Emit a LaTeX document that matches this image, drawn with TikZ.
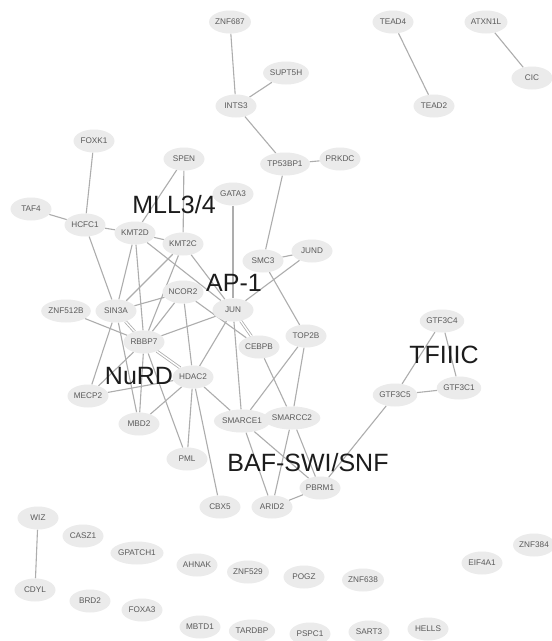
\documentclass[tikz,border=0pt]{standalone}
\usepackage{fontspec}
\setmainfont{Liberation Sans}
\usetikzlibrary{shapes.geometric}
\definecolor{nodefill}{HTML}{EBEBEB}
\definecolor{nodetext}{HTML}{5A5A5A}
\definecolor{edgecol}{HTML}{ADADAD}
\definecolor{grptext}{HTML}{1C1C1C}
\pgfdeclarelayer{bg}
\pgfdeclarelayer{edgelayer}
\pgfsetlayers{bg,edgelayer,main}
\begin{document}
\begin{tikzpicture}[x=1pt,y=-1pt,
  gene/.style={ellipse, fill=nodefill, minimum width=41pt, minimum height=23pt, inner sep=0pt,
    font=\fontsize{8.2pt}{9pt}\selectfont, text=nodetext},
  grp/.style={font=\fontsize{25pt}{28pt}\selectfont, text=grptext, inner sep=0pt},
  edge/.style={draw=edgecol, line width=1.1pt},
  dbl/.style={draw=edgecol, line width=0.8pt, double=white, double distance=1.4pt}]
\begin{pgfonlayer}{bg}
\fill[white] (0,0) rectangle (552,641);
\end{pgfonlayer}
\useasboundingbox (0,0) rectangle (552,641);

\node[gene] (ZNF687) at (230,22) {ZNF687};
\node[gene] (SUPT5H) at (286,73) {SUPT5H};
\node[gene] (INTS3) at (236,106) {INTS3};
\node[gene] (TEAD4) at (393,22) {TEAD4};
\node[gene] (TEAD2) at (434,106) {TEAD2};
\node[gene] (ATXN1L) at (486,22) {ATXN1L};
\node[gene] (CIC) at (532,78) {CIC};
\node[gene] (FOXK1) at (94,141) {FOXK1};
\node[gene] (SPEN) at (184,159) {SPEN};
\node[gene] (TP53BP1) at (285,164) {TP53BP1};
\node[gene] (PRKDC) at (340,159) {PRKDC};
\node[gene] (GATA3) at (233,194) {GATA3};
\node[gene] (TAF4) at (31,209) {TAF4};
\node[gene] (HCFC1) at (85,225) {HCFC1};
\node[gene] (KMT2D) at (135,233) {KMT2D};
\node[gene] (KMT2C) at (183,244) {KMT2C};
\node[gene] (JUND) at (312,251) {JUND};
\node[gene] (SMC3) at (263,261) {SMC3};
\node[gene] (NCOR2) at (183,292) {NCOR2};
\node[gene] (JUN) at (233,310) {JUN};
\node[gene] (ZNF512B) at (66,311) {ZNF512B};
\node[gene] (SIN3A) at (116,311) {SIN3A};
\node[gene] (RBBP7) at (144,342) {RBBP7};
\node[gene] (GTF3C4) at (442,321) {GTF3C4};
\node[gene] (TOP2B) at (306,336) {TOP2B};
\node[gene] (CEBPB) at (259,347) {CEBPB};
\node[gene] (HDAC2) at (193,377) {HDAC2};
\node[gene] (MECP2) at (88,396) {MECP2};
\node[gene] (GTF3C1) at (459,388) {GTF3C1};
\node[gene] (GTF3C5) at (395,395) {GTF3C5};
\node[gene] (MBD2) at (139,424) {MBD2};
\node[gene] (SMARCE1) at (242,421) {SMARCE1};
\node[gene] (SMARCC2) at (292,418) {SMARCC2};
\node[gene] (PML) at (187,459) {PML};
\node[gene] (PBRM1) at (320,488) {PBRM1};
\node[gene] (CBX5) at (220,507) {CBX5};
\node[gene] (ARID2) at (272,507) {ARID2};
\node[gene] (WIZ) at (38,518) {WIZ};
\node[gene] (CASZ1) at (83,536) {CASZ1};
\node[gene] (GPATCH1) at (137,553) {GPATCH1};
\node[gene] (AHNAK) at (197,565) {AHNAK};
\node[gene] (ZNF529) at (248,572) {ZNF529};
\node[gene] (ZNF384) at (534,545) {ZNF384};
\node[gene] (EIF4A1) at (482,563) {EIF4A1};
\node[gene] (POGZ) at (304,577) {POGZ};
\node[gene] (ZNF638) at (363,580) {ZNF638};
\node[gene] (CDYL) at (35,590) {CDYL};
\node[gene] (BRD2) at (90,601) {BRD2};
\node[gene] (FOXA3) at (142,610) {FOXA3};
\node[gene] (MBTD1) at (200,627) {MBTD1};
\node[gene] (TARDBP) at (252,631) {TARDBP};
\node[gene] (PSPC1) at (310,634) {PSPC1};
\node[gene] (SART3) at (369,632) {SART3};
\node[gene] (HELLS) at (428,629) {HELLS};

\node[grp] (lMLL) at (174,205) {MLL3/4};
\node[grp] (lAP) at (234,283) {AP-1};
\node[grp] (lNuRD) at (139,376) {NuRD};
\node[grp] (lTF) at (444,355) {TFIIIC};
\node[grp] (lBAF) at (308,463) {BAF-SWI/SNF};

\begin{pgfonlayer}{edgelayer}
\draw[edge] (ZNF687) -- (INTS3);
\draw[edge] (SUPT5H) -- (INTS3);
\draw[edge] (INTS3) -- (TP53BP1);
\draw[edge] (TP53BP1) -- (PRKDC);
\draw[edge] (TP53BP1) -- (SMC3);
\draw[edge] (TEAD4) -- (TEAD2);
\draw[edge] (ATXN1L) -- (CIC);
\draw[edge] (FOXK1) -- (HCFC1);
\draw[edge] (TAF4) -- (HCFC1);
\draw[edge] (HCFC1) -- (KMT2D);
\draw[edge] (KMT2D) -- (KMT2C);
\draw[edge] (SPEN) -- (KMT2C);
\draw[edge] (SPEN) -- (KMT2D);
\draw[edge] (GATA3) -- (JUN);
\draw[edge] (SMC3) -- (JUND);
\draw[edge] (JUND) -- (JUN);
\draw[edge] (SMC3) -- (TOP2B);
\draw[edge] (HCFC1) -- (SIN3A);
\draw[edge] (KMT2D) -- (SIN3A);
\draw[edge] (KMT2D) -- (RBBP7);
\draw[edge] (KMT2D) -- (JUN);
\draw[edge] (KMT2C) -- (SIN3A);
\draw[edge] (KMT2C) -- (RBBP7);
\draw[edge] (KMT2C) -- (JUN);
\draw[edge] (SIN3A) -- (NCOR2);
\draw[edge] (NCOR2) -- (RBBP7);
\draw[edge] (NCOR2) -- (HDAC2);
\draw[edge] (NCOR2) -- (CEBPB);
\draw[dbl] (SIN3A) -- (RBBP7);
\draw[dbl] (RBBP7) -- (HDAC2);
\draw[dbl] (JUN) -- (CEBPB);
\draw[edge] (RBBP7) -- (JUN);
\draw[edge] (JUN) -- (HDAC2);
\draw[edge] (JUN) -- (SMARCE1);
\draw[edge] (ZNF512B) -- (RBBP7);
\draw[edge] (SIN3A) -- (MECP2);
\draw[edge] (SIN3A) -- (MBD2);
\draw[edge] (MECP2) -- (RBBP7);
\draw[edge] (MECP2) -- (HDAC2);
\draw[edge] (RBBP7) -- (MBD2);
\draw[edge] (MBD2) -- (HDAC2);
\draw[edge] (RBBP7) -- (PML);
\draw[edge] (HDAC2) -- (PML);
\draw[edge] (HDAC2) -- (CBX5);
\draw[edge] (HDAC2) -- (SMARCE1);
\draw[edge] (SMARCE1) -- (SMARCC2);
\draw[edge] (SMARCE1) -- (TOP2B);
\draw[edge] (SMARCC2) -- (TOP2B);
\draw[edge] (CEBPB) -- (SMARCC2);
\draw[edge] (SMARCE1) -- (ARID2);
\draw[edge] (SMARCE1) -- (PBRM1);
\draw[edge] (SMARCC2) -- (ARID2);
\draw[edge] (SMARCC2) -- (PBRM1);
\draw[edge] (ARID2) -- (PBRM1);
\draw[edge] (PBRM1) -- (GTF3C5);
\draw[edge] (GTF3C5) -- (GTF3C4);
\draw[edge] (GTF3C5) -- (GTF3C1);
\draw[edge] (GTF3C4) -- (GTF3C1);
\draw[edge] (WIZ) -- (CDYL);
\end{pgfonlayer}
\end{tikzpicture}
\end{document}
